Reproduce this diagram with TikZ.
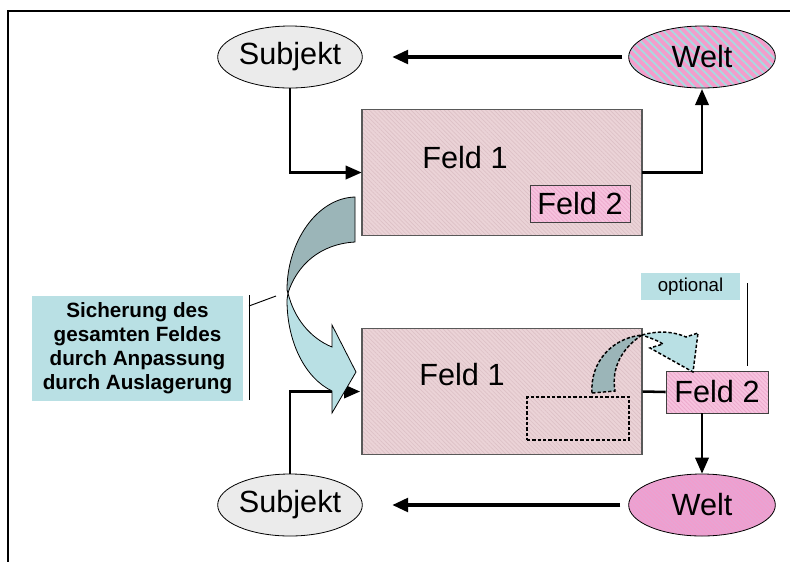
\documentclass[tikz,border=0pt]{standalone}
\usepackage{fontspec}
\setmainfont{Liberation Sans}
\usetikzlibrary{shapes.geometric,arrows.meta,patterns.meta}
\definecolor{subgray}{HTML}{EBEBEB}
\definecolor{weltpink}{HTML}{F59CCB}
\definecolor{weltcyan}{HTML}{A9D9DF}
\definecolor{weltpinkB}{HTML}{E9A3D3}
\definecolor{feldbase}{HTML}{EBD3D7}
\definecolor{feldline}{HTML}{DDC1C6}
\definecolor{feldtwo}{HTML}{F7C3DF}
\definecolor{feldtwoline}{HTML}{EDA9CC}
\definecolor{tealdark}{HTML}{9BB5B8}
\definecolor{teallight}{HTML}{B9E0E4}
\begin{document}
\begin{tikzpicture}[x=0.75pt,y=-0.75pt,
  every node/.style={font=\fontsize{23}{27}\selectfont},
  subj/.style={ellipse,draw=black,line width=0.6pt,fill=subgray,minimum width=97pt,minimum height=46.5pt,inner sep=0pt},
  weltT/.style={ellipse,draw=black,line width=0.6pt,preaction={fill=weltpink},pattern={Lines[angle=-45,distance=4.4pt,line width=1.5pt]},pattern color=weltcyan,minimum width=110pt,minimum height=46.5pt,inner sep=0pt},
  weltB/.style={ellipse,draw=black,line width=0.6pt,preaction={fill=weltpinkB},pattern={Lines[angle=-45,distance=2pt,line width=0.5pt]},pattern color=weltpink,minimum width=110pt,minimum height=46.5pt,inner sep=0pt},
  feldone/.style={rectangle,draw=black!65,line width=0.9pt,preaction={fill=feldbase},pattern={Lines[angle=-45,distance=2.2pt,line width=0.5pt]},pattern color=feldline,minimum width=210pt,minimum height=94pt,inner sep=0pt},
  feldtwobox/.style={rectangle,draw=black!75,line width=0.7pt,preaction={fill=feldtwo},pattern={Lines[angle=-45,distance=2.2pt,line width=0.6pt]},pattern color=feldtwoline,inner sep=0pt},
  calloutbox/.style={rectangle,fill=teallight,inner sep=0pt},
  bigarrow/.style={line width=3pt,-{Triangle[length=12pt,width=10pt]}},
  conn/.style={line width=1.9pt},
  connarrow/.style={line width=1.9pt,-{Triangle[length=12pt,width=10pt]}},
  thinline/.style={line width=0.7pt},
  dashedge/.style={draw=black,line width=1.1pt,dash pattern=on 2.5pt off 1.5pt}
]
\useasboundingbox (0,0) rectangle (790,562);
% frame
\draw[line width=1.5pt] (790,11) -- (8,11) -- (8,562);

% top part
\node[subj] (subT) at (290,57) {Subjekt};
\node[weltT] (weltT) at (702,57) {Welt};
\node[feldone] (feld1T) at (502,172.5) {};
\node (f1tT) at (465,158) {Feld 1};
\node[feldtwobox,minimum width=75pt,minimum height=27.75pt] (feld2T) at (580,203.5) {Feld 2};

\draw[bigarrow,shorten <=4pt,shorten >=22pt] (weltT.west) -- (subT.east);
\draw[connarrow] (subT.south) |- (feld1T.west);
\draw[connarrow] (feld1T.east) -| (weltT.south);

% bottom part
\node[subj] (subB) at (290,505) {Subjekt};
\node[weltB] (weltB) at (702,505) {Welt};
\node[feldone] (feld1B) at (502,391.5) {};
\node (f1tB) at (462,375) {Feld 1};
\node[rectangle,dashedge,minimum width=76.5pt,minimum height=32.25pt] (dashrect) at (578,418.5) {};
\node[feldtwobox,minimum width=76.5pt,minimum height=31.5pt] (feld2B) at (717,392) {Feld 2};

\draw[bigarrow,shorten <=6pt,shorten >=22pt] (weltB.west) -- (subB.east);
\draw[connarrow,shorten >=1pt] (subB.north) |- (feld1B.west);
\draw[conn] (feld1B.east) -- (feld2B.west);
\draw[connarrow] (feld2B.south -| weltB.north) -- (weltB.north);

% big curved arrow
\draw[fill=teallight,line width=0.6pt] (288,293) .. controls (287,296) and (287,297) .. (287,300)
  .. controls (287,342) and (305,378) .. (332,391) -- (332,413) -- (356,372) -- (332,325) -- (332,347)
  .. controls (310,338) and (294,318) .. (288,293) -- cycle;
\draw[fill=tealdark,line width=0.6pt] (355,197) .. controls (317,198) and (287,242) .. (287,290)
  -- (288,293) .. controls (297,265) and (320,244) .. (355,242) -- cycle;

% small dashed arrow
\draw[fill=teallight,dashedge] (642,335) .. controls (660,330) and (675,332) .. (686,337)
  -- (698,333) -- (693,372) -- (650,348) -- (663,344) .. controls (657,340) and (650,338) .. (642,335) -- cycle;
\draw[fill=tealdark,dashedge] (592,393) .. controls (590,362) and (612,338) .. (642,335)
  .. controls (622,348) and (611,368) .. (615,391) -- cycle;

% callouts
\node[calloutbox,minimum width=158pt,minimum height=78.75pt,align=center,font=\bfseries\fontsize{15.5}{18}\selectfont] (sich) at (137.5,348.5)
  {Sicherung des\\gesamten Feldes\\durch Anpassung\\durch Auslagerung};
\coordinate (sichbarT) at (249,295);
\coordinate (sichbarB) at (249,400);
\coordinate (sichtip) at (276,296);
\draw[thinline] (sichbarT) -- (sichbarB);
\draw[thinline] (sichbarT |- 0,306) -- (sichtip);

\node[calloutbox,minimum width=74.25pt,minimum height=20.25pt,font=\fontsize{14}{16}\selectfont] (opt) at (690.5,286.5) {optional};
\coordinate (optT) at (747,283);
\coordinate (optB) at (747,366);
\draw[thinline] (optT) -- (optB);
\end{tikzpicture}
\end{document}
